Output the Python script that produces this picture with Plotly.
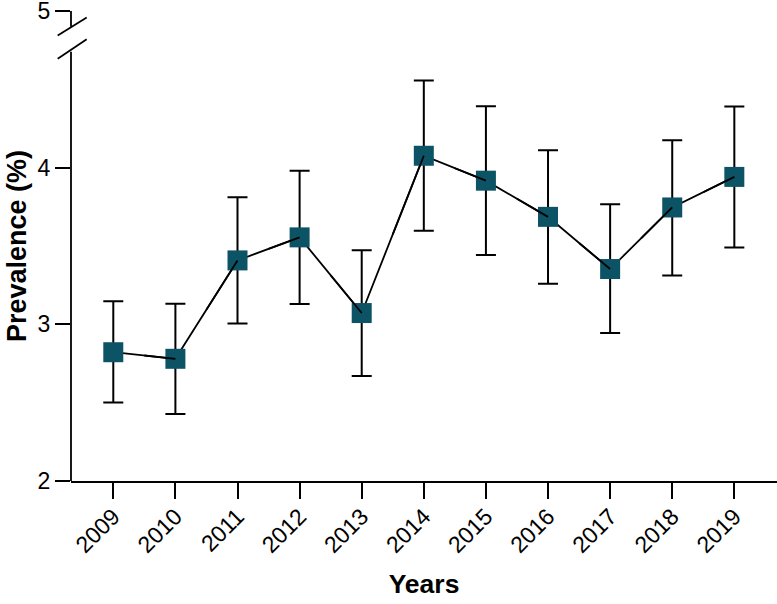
import plotly.graph_objects as go

years = ["2009", "2010", "2011", "2012", "2013", "2014", "2015", "2016", "2017", "2018", "2019"]
prevalence = [2.822, 2.780, 3.408, 3.555, 3.072, 4.076, 3.917, 3.686, 3.353, 3.746, 3.941]
ci_upper = [3.148, 3.131, 3.811, 3.980, 3.473, 4.556, 4.392, 4.111, 3.766, 4.175, 4.390]
ci_lower = [2.501, 2.428, 3.006, 3.129, 2.671, 3.597, 3.442, 3.259, 2.944, 3.312, 3.491]
y_ticks = [2, 3, 4, 5]

x_idx = list(range(len(years)))
err_plus = [u - p for u, p in zip(ci_upper, prevalence)]
err_minus = [p - l for p, l in zip(prevalence, ci_lower)]

MARK = "#0D5366"
FONT = "Liberation Sans, Arial, sans-serif"

fig = go.Figure()
fig.add_trace(go.Scatter(
    x=x_idx, y=prevalence, mode="lines+markers",
    line=dict(color="black", width=1.8),
    marker=dict(symbol="square", size=20, color=MARK),
    error_y=dict(type="data", symmetric=False, array=err_plus, arrayminus=err_minus,
                 color="black", thickness=2, width=10),
    showlegend=False,
))

# segment ends drawn over the following marker (as in reference)
ox, oy = [], []
for i in range(1, len(prevalence)):
    ox += [i - 0.5, i, None]
    oy += [(prevalence[i - 1] + prevalence[i]) / 2, prevalence[i], None]
fig.add_trace(go.Scatter(x=ox, y=oy, mode="lines", line=dict(color="black", width=1.8),
                         showlegend=False, hoverinfo="skip"))

shapes = [
    # y axis with break
    dict(type="line", xref="paper", yref="y", x0=0, x1=0, y0=2, y1=4.74,
         line=dict(color="black", width=1.8)),
    dict(type="line", xref="paper", yref="y", x0=0, x1=0, y0=4.90, y1=5,
         line=dict(color="black", width=1.8)),
    dict(type="line", xref="paper", xsizemode="pixel", xanchor=0, yref="y",
         x0=-13.3, x1=15.7, y0=4.695, y1=4.820, line=dict(color="black", width=1.8)),
    dict(type="line", xref="paper", xsizemode="pixel", xanchor=0, yref="y",
         x0=-13.3, x1=15.7, y0=4.843, y1=4.958, line=dict(color="black", width=1.8)),
]

fig.update_layout(
    width=777, height=604,
    margin=dict(l=71, r=0, t=11, b=123),
    plot_bgcolor="white", paper_bgcolor="white",
    font=dict(family=FONT, color="black"),
    shapes=shapes,
    xaxis=dict(
        range=[-0.681, 10.687], tickmode="array", tickvals=x_idx, ticktext=years,
        tickangle=-45, ticks="outside", ticklen=16, tickwidth=1.8, tickcolor="black",
        showline=True, linecolor="black", linewidth=1.8, showgrid=False, zeroline=False,
        tickfont=dict(size=23, family=FONT), ticklabelstandoff=-5,
        title=dict(text="<b>Years</b>", font=dict(size=26.5, family=FONT), standoff=18),
        automargin=False,
    ),
    yaxis=dict(
        range=[2, 5], tickmode="array", tickvals=y_ticks, ticktext=[str(t) for t in y_ticks],
        ticks="outside", ticklen=15, tickwidth=1.8, tickcolor="black",
        showline=False, showgrid=False, zeroline=False, ticklabeloverflow="allow",
        tickfont=dict(size=23, family=FONT),
        title=dict(text="<b>Prevalence (%)</b>", font=dict(size=27, family=FONT), standoff=3),
        automargin=False,
    ),
)

fig.write_html("out.html", config={"displayModeBar": False},
               post_script="document.body.style.margin='0px';document.body.style.padding='0px';")
